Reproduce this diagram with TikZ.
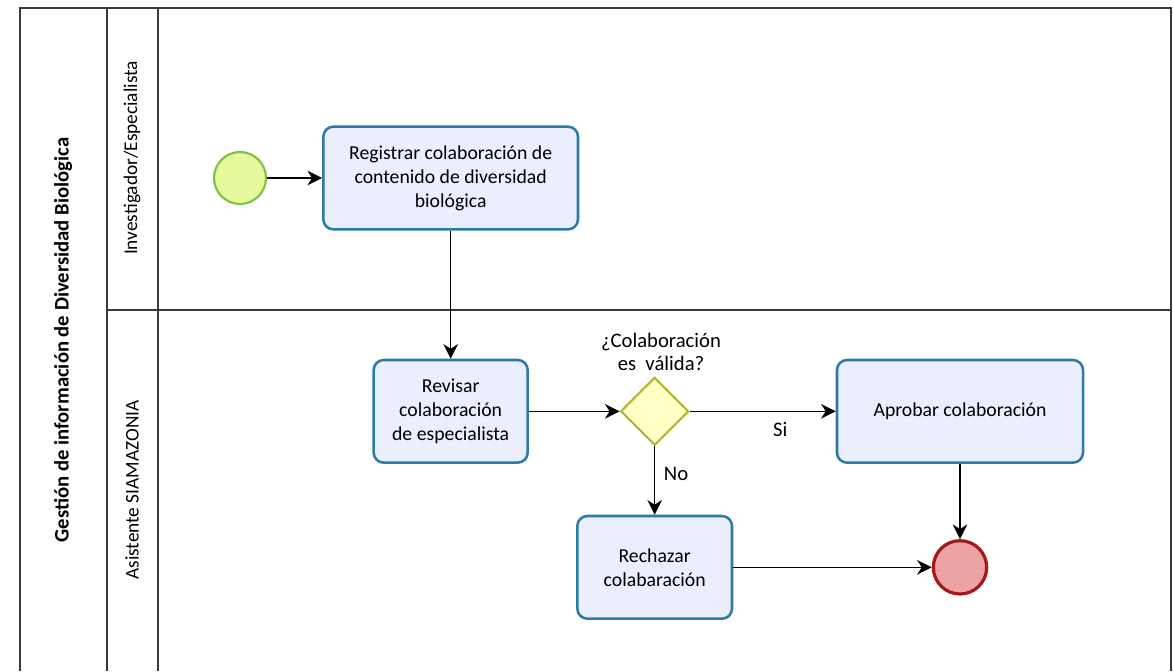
\documentclass[tikz,border=0pt]{standalone}
\usepackage{fontspec}
\setmainfont{Carlito}
\usepackage{tikz}
\usetikzlibrary{arrows.meta}
\usetikzlibrary{shapes.geometric}
\usetikzlibrary{positioning}

\definecolor{taskfill}{HTML}{EAEEFD}
\definecolor{taskline}{HTML}{2B7BA5}
\definecolor{startfill}{HTML}{E4FA9C}
\definecolor{startline}{HTML}{7CC241}
\definecolor{gatefill}{HTML}{FFFFC6}
\definecolor{gateline}{HTML}{B3B62C}
\definecolor{endfill}{HTML}{EBA3A3}
\definecolor{endline}{HTML}{A41A1A}
\definecolor{poolline}{HTML}{3A3A3A}

\begin{document}
\begin{tikzpicture}[x=0.75pt,y=-0.75pt,>={Stealth[length=11pt,width=11pt,inset=3.5pt]},auto,
                    line width=1.2pt,
                    task node/.style={rectangle,rounded corners=7.5pt,draw=taskline,fill=taskfill,
                                      line width=1.9pt,align=center,inner sep=2pt,
                                      minimum height=77pt,font=\fontsize{14.8}{18}\selectfont},
                    start node/.style={circle,draw=startline,fill=startfill,line width=1.6pt,
                                       minimum size=39pt,inner sep=0pt},
                    end node/.style={circle,draw=endline,fill=endfill,line width=2.4pt,
                                     minimum size=40pt,inner sep=0pt},
                    gate node/.style={diamond,draw=gateline,fill=gatefill,line width=1.6pt,
                                      minimum size=51pt,inner sep=0pt},
                    lane text/.style={rotate=90,font=\fontsize{14.5}{17}\selectfont},
                    edge text/.style={font=\fontsize{15.5}{17}\selectfont}]

  \useasboundingbox (0,0) rectangle (1173,671);

  % pool and lanes
  \draw[poolline,line width=1.2pt] (20,671) -- (20,8) -- (1171,8) -- (1171,671);
  \draw[poolline,line width=1.2pt] (107,8) -- (107,671);
  \draw[poolline,line width=1.2pt] (158,8) -- (158,671);
  \draw[poolline,line width=1.2pt] (107,310) -- (1171,310);

  \node[rotate=90,font=\bfseries\fontsize{15.5}{17}\selectfont] (pool) at (63,340)
    {Gestión de información de Diversidad Biológica};
  \node[lane text] (lane1) at (132,158) {Investigador/Especialista};
  \node[lane text] (lane2) at (132,490) {Asistente SIAMAZONIA};

  % flow
  \node[start node] (start) at (240,178) {};
  \node[task node,minimum width=191pt] (reg) [right of=start,node distance=158pt]
    {Registrar colaboración de\\contenido de diversidad\\biológica};
  \node[task node,minimum width=115.5pt] (rev) [below of=reg,node distance=175pt]
    {Revisar\\colaboración\\de especialista};
  \node[gate node] (gate) [right of=rev,node distance=153pt] {};
  \node[edge text,align=center] (quest) at (661,352) {¿Colaboración\\es\ \ válida?};
  \node[task node,minimum width=184.5pt] (apr) [right of=gate,node distance=229pt]
    {Aprobar colaboración};
  \node[task node,minimum width=116pt] (rech) [below of=gate,node distance=117pt]
    {Rechazar\\colabaración};
  \node[end node] (end) [below of=apr,node distance=117pt] {};

  \path[->,every node/.style={edge text}]
    (start) edge node {} (reg)
    (reg) edge node {} (rev)
    (rev) edge node {} (gate)
    (gate) edge node[below=4pt,pos=0.62] {Si} (apr)
    (gate) edge node[right=3pt,pos=0.4] {No} (rech)
    (apr) edge node {} (end)
    (rech) edge node {} (end)
    ;

\end{tikzpicture}
\end{document}
